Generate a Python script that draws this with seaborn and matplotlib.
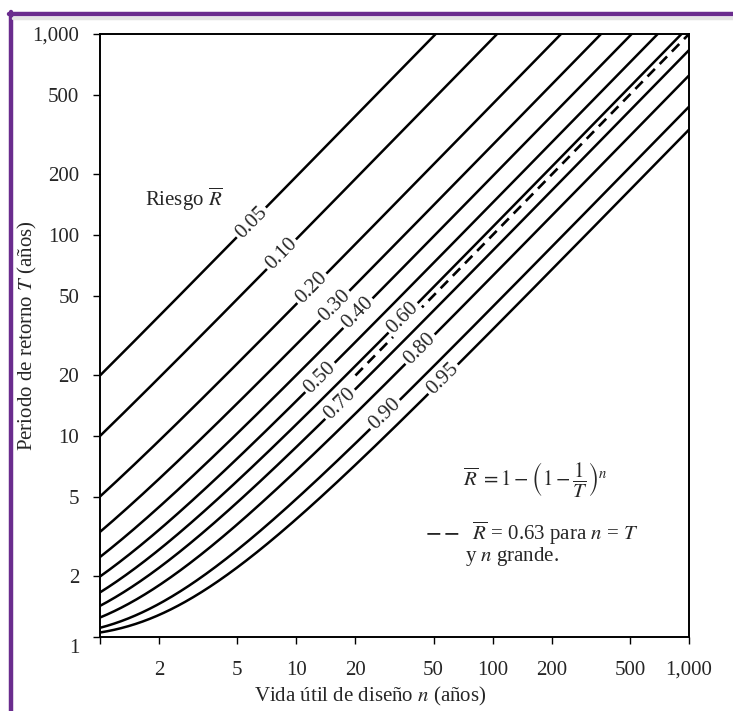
import numpy as np
import pandas as pd
import matplotlib
matplotlib.use('Agg')
import matplotlib.pyplot as plt
import seaborn as sns
from matplotlib.lines import Line2D
from matplotlib.transforms import ScaledTranslation

# Risk levels drawn in the chart and the text written on each curve
RISKS = [0.05, 0.10, 0.20, 0.30, 0.40, 0.50, 0.60, 0.70, 0.80, 0.90, 0.95]
RISK_LABELS = ['0.05', '0.10', '0.20', '0.30', '0.40', '0.50',
               '0.60', '0.70', '0.80', '0.90', '0.95']
# design life n where each label sits on its curve
LABEL_N = [5.9, 8.4, 12.0, 15.7, 20.6, 13.2, 35.0, 16.7, 42.7, 28.3, 55.9]

# dashed line R = 0.63 (n = T), drawn from n = 20 upwards
LIMIT_N = [20, 1000]
LIMIT_T = [20, 1000]

X_TICKS = [1, 2, 5, 10, 20, 50, 100, 200, 500, 1000]
X_TICK_LABELS = ['', '2', '5', '10', '20', '50', '100', '200', '500', '1,000']
Y_TICKS = [1, 2, 5, 10, 20, 50, 100, 200, 500, 1000]
Y_TICK_LABELS = ['1', '2', '5', '10', '20', '50', '100', '200', '500', '1,000']

FONT = 15


def return_period(n, risk):
    """Curve of the chart: R = 1 - (1 - 1/T)^n solved for T."""
    return 1.0 / (1.0 - (1.0 - risk) ** (1.0 / np.asarray(n, dtype=float)))


def build_frame():
    n_grid = np.geomspace(1, 1000, 500)
    rows = []
    for r in RISKS:
        rows.append(pd.DataFrame({'n': n_grid, 'T': return_period(n_grid, r), 'R': r}))
    return pd.concat(rows, ignore_index=True)


def main():
    sns.set_theme(style='white')
    plt.rcParams['font.family'] = ['Liberation Serif', 'DejaVu Serif']
    plt.rcParams['mathtext.fontset'] = 'stix'

    fig = plt.figure(figsize=(7.33, 7.11), dpi=100)
    ax = fig.add_axes([100 / 733, 1 - 637 / 711, 589 / 733, 603 / 711])

    df = build_frame()
    sns.lineplot(data=df, x='n', y='T', units='R', estimator=None,
                 color='black', linewidth=1.8, ax=ax, legend=False)
    sns.lineplot(x=LIMIT_N, y=LIMIT_T, color='black', linewidth=1.9,
                 dashes=False, ax=ax, legend=False)
    ax.lines[-1].set_dashes((4.0, 2.6))

    ax.set_xscale('log')
    ax.set_yscale('log')
    ax.set_xlim(1, 1000)
    ax.set_ylim(1, 1000)
    ax.set_xticks(X_TICKS)
    ax.set_xticklabels(X_TICK_LABELS)
    ax.set_yticks(Y_TICKS)
    ax.set_yticklabels(Y_TICK_LABELS)
    ax.minorticks_off()
    ax.tick_params(axis='both', which='major', direction='out', length=5,
                   width=1.0, color='black', labelsize=FONT,
                   bottom=True, left=True, top=False, right=False)
    ax.tick_params(axis='x', pad=12)
    ax.tick_params(axis='y', pad=10)
    for s in ax.spines.values():
        s.set_color('black')
        s.set_linewidth(1.4)

    # the "1" on the y axis sits a little below its tick in the original
    lab1 = ax.get_yticklabels()[0]
    lab1.set_transform(lab1.get_transform() + ScaledTranslation(0, -9 / 100, fig.dpi_scale_trans))

    ax.set_xlabel('Vida útil de diseño $n$ (años)', fontsize=FONT)
    ax.set_ylabel('Periodo de retorno $T$ (años)', fontsize=FONT)
    ax.xaxis.set_label_coords(0.458, -48 / 603)
    ax.yaxis.set_label_coords(-61 / 589, 0.5)

    # inline labels, rotated along the local slope of each curve
    for r, lab, n0 in zip(RISKS, RISK_LABELS, LABEL_N):
        t0 = return_period(n0, r)
        p1 = ax.transData.transform((n0, t0))
        p2 = ax.transData.transform((n0 * 1.05, return_period(n0 * 1.05, r)))
        ang = np.degrees(np.arctan2(p2[1] - p1[1], p2[0] - p1[0]))
        ax.text(n0, t0, lab, rotation=ang, rotation_mode='anchor',
                ha='center', va='center', fontsize=FONT,
                bbox=dict(facecolor='white', edgecolor='none', pad=1.8))

    ax.text(1.70, 150, r'Riesgo $\overline{R}$', fontsize=FONT,
            ha='left', va='center')

    ax.text(0.616, 0.262, r'$\overline{R}\;=1-\left(1-\dfrac{1}{T}\right)^{n}$',
            transform=ax.transAxes, fontsize=FONT, ha='left', va='center')
    ax.text(0.552, 0.172, r'$\mathbf{--}$  $\overline{R}$ = 0.63 para $n$ = $T$',
            transform=ax.transAxes, fontsize=FONT, ha='left', va='center')
    ax.text(0.620, 0.133, r'y $n$ grande.',
            transform=ax.transAxes, fontsize=FONT, ha='left', va='center')

    # purple frame around the scanned figure
    purple = '#6a2c8e'
    fig.add_artist(Line2D([9 / 733, 1], [1 - 14 / 711, 1 - 14 / 711],
                          transform=fig.transFigure, color=purple, linewidth=3.2))
    fig.add_artist(Line2D([11 / 733, 11 / 733], [0, 1 - 12 / 711],
                          transform=fig.transFigure, color=purple, linewidth=3.2))
    fig.add_artist(Line2D([13 / 733, 1], [1 - 18 / 711, 1 - 18 / 711],
                          transform=fig.transFigure, color='#e4e4e4', linewidth=2.5))

    fig.savefig('out.png', dpi=100)


if __name__ == "__main__":
    main()
